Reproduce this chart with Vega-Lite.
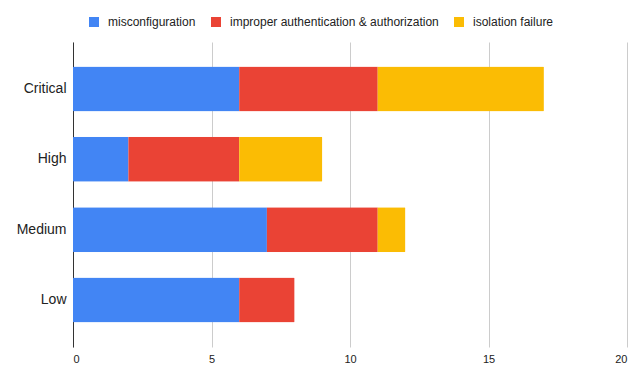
{
  "$schema": "https://vega.github.io/schema/vega-lite/v6.json",
  "autosize": {"type": "none"},
  "width": 554,
  "height": 305,
  "padding": {"left": 73, "top": 42, "right": 13, "bottom": 26},
  "background": "white",
  "config": {
    "view": {"stroke": null},
    "font": "Liberation Sans"
  },
  "data": {
    "values": [
      {"severity": "Critical", "type": "misconfiguration", "order": 1, "count": 6},
      {"severity": "Critical", "type": "improper authentication & authorization", "order": 2, "count": 5},
      {"severity": "Critical", "type": "isolation failure", "order": 3, "count": 6},
      {"severity": "High", "type": "misconfiguration", "order": 1, "count": 2},
      {"severity": "High", "type": "improper authentication & authorization", "order": 2, "count": 4},
      {"severity": "High", "type": "isolation failure", "order": 3, "count": 3},
      {"severity": "Medium", "type": "misconfiguration", "order": 1, "count": 7},
      {"severity": "Medium", "type": "improper authentication & authorization", "order": 2, "count": 4},
      {"severity": "Medium", "type": "isolation failure", "order": 3, "count": 1},
      {"severity": "Low", "type": "misconfiguration", "order": 1, "count": 6},
      {"severity": "Low", "type": "improper authentication & authorization", "order": 2, "count": 2},
      {"severity": "Low", "type": "isolation failure", "order": 3, "count": 0}
    ]
  },
  "mark": {"type": "bar", "cornerRadius": 1},
  "encoding": {
    "y": {
      "field": "severity",
      "type": "nominal",
      "sort": ["Critical", "High", "Medium", "Low"],
      "scale": {"paddingInner": 0.36, "paddingOuter": 0.35},
      "axis": {
        "title": null,
        "ticks": false,
        "domain": true,
        "domainColor": "#333333",
        "domainWidth": 1,
        "labelFontSize": 14,
        "labelColor": "#222222",
        "labelPadding": 7
      }
    },
    "x": {
      "field": "count",
      "type": "quantitative",
      "stack": "zero",
      "scale": {"domain": [0, 20], "nice": false},
      "axis": {
        "title": null,
        "values": [0, 5, 10, 15, 20],
        "ticks": false,
        "domain": false,
        "grid": true,
        "gridColor": "#cccccc",
        "labelFontSize": 11,
        "labelColor": "#222222",
        "labelPadding": 6
      }
    },
    "color": {
      "field": "type",
      "type": "nominal",
      "scale": {
        "domain": ["misconfiguration", "improper authentication & authorization", "isolation failure"],
        "range": ["#4285F4", "#EA4335", "#FBBC04"]
      },
      "legend": {
        "title": null,
        "orient": "none",
        "direction": "horizontal",
        "legendX": 15,
        "legendY": -26,
        "symbolType": "square",
        "symbolSize": 100,
        "symbolStrokeWidth": 0,
        "labelFontSize": 12,
        "labelColor": "#222222",
        "labelOffset": 8,
        "labelLimit": 0,
        "columnPadding": 14
      }
    },
    "order": {"field": "order", "type": "quantitative"}
  }
}
